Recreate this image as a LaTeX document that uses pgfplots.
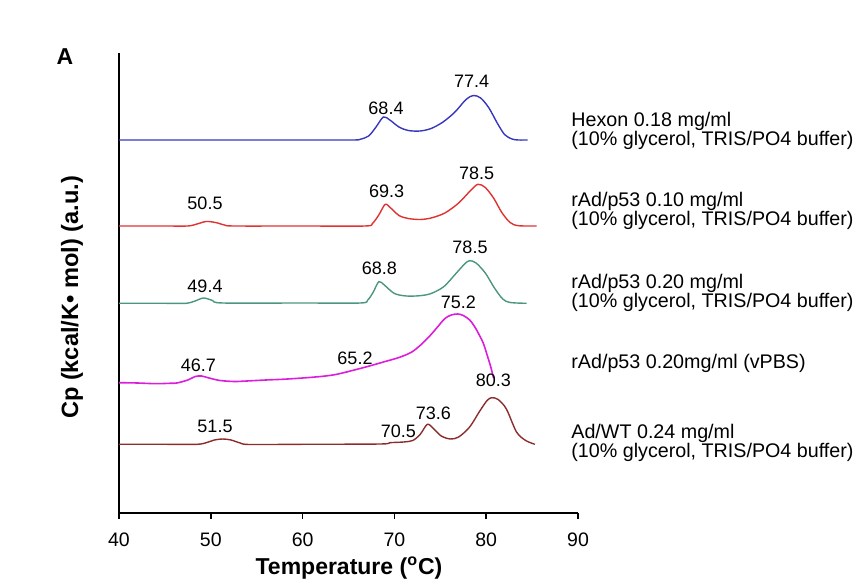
\documentclass[border=0pt]{standalone}
\usepackage{pgfplots}
\pgfplotsset{compat=1.18}
\usepackage{fontspec}
\setmainfont{Liberation Sans}
\definecolor{cblue}{RGB}{55,55,190}
\definecolor{cred}{RGB}{225,50,50}
\definecolor{cgreen}{RGB}{75,150,128}
\definecolor{cmag}{RGB}{220,30,220}
\definecolor{cbrown}{RGB}{140,45,45}
\newcommand{\lf}{\fontsize{9}{11}\selectfont}
\newcommand{\rf}{\fontsize{9.85}{12}\selectfont}
\begin{document}
\begin{tikzpicture}
\useasboundingbox (0,0) rectangle (429pt,-290.5pt);
\clip (0,0) rectangle (429pt,-290.5pt);
\begin{axis}[
  at={(59.5pt,-256.5pt)}, anchor=south west,
  scale only axis, width=229.5pt, height=230pt,
  xmin=40, xmax=90, ymin=0, ymax=460,
  axis x line=bottom, axis y line=left,
  axis line style={-, line width=1pt},
  xtick={40,50,...,90}, ytick=\empty,
  tick align=outside, major tick length=3pt,
  tick style={line width=0.8pt, black},
  /pgf/number format/assume math mode=true,
  tick label style={font=\fontsize{9.75}{11}\selectfont},
  xticklabel style={yshift=-3.5pt},
  clip=false,
]
\addplot[cblue, line width=0.7pt, smooth] coordinates {
(40,373)(50,373)(60,373)(65.5,373)(66.3,373.8)(67.2,377)(68,386)(68.8,396)(69.5,393)(70.5,386)(71.5,382.5)(72.8,382)(74,384.5)(75.3,391)(76.6,401)(77.8,413.5)(78.6,417.5)(79.4,415)(80.3,405)(81.2,390)(82,378.5)(82.8,374)(83.5,373)(84.5,373)};
\addplot[cred, line width=0.7pt, smooth] coordinates {
(40,287)(45,287)(47.5,287)(48.5,289)(49.5,291.5)(50.5,290.5)(51.5,288)(52.5,287)(60,287)(66.8,287)(67.6,289.5)(68.3,298)(69,308.7)(69.6,305)(70.5,297.5)(71.5,294.5)(72.8,293.5)(74,295)(75.5,300)(77,310)(78.3,322.5)(79.1,328.7)(79.9,325.5)(80.8,315)(81.7,300.5)(82.6,290.5)(83.5,287.3)(85.5,287)};
\addplot[cgreen, line width=0.7pt, smooth] coordinates {
(40,209.7)(45,209.7)(47.3,209.7)(48.3,212)(49.2,215)(50.2,212.5)(51.3,210)(60,210)(66.3,210)(67.1,213)(67.7,221)(68.3,231.3)(68.9,228)(70,219.5)(71.3,217)(72.8,217.3)(74,219.5)(75.4,226.5)(76.8,240.5)(77.7,249.5)(78.2,252.3)(78.9,250)(79.9,240)(80.9,225)(81.8,214)(82.6,210.5)(84.4,209.7)};
\addplot[cmag, line width=0.8pt, smooth] coordinates {
(40,130.3)(42,130)(44,129.3)(45.5,129.7)(46.3,130)(47.5,133)(48.3,136.5)(49,137)(49.8,135)(51,132.5)(52.5,131.5)(53.5,131.8)(56,133)(58,133.8)(60,135)(62,136.5)(63.5,138.3)(65,141.5)(67,146.3)(69,151.5)(70.5,155.5)(71.8,160.5)(72.8,167.5)(73.8,176.5)(74.7,186)(75.5,194.5)(76.2,198)(76.9,199)(77.5,197.5)(78.2,193)(78.8,185.5)(79.3,177)(79.7,169.5)(80.1,158)(80.5,146)(80.8,135)};
\addplot[cbrown, line width=0.7pt, smooth] coordinates {
(40,68.7)(45,68.7)(48.5,68.7)(49.5,70.3)(50.4,73)(51.3,74)(52.2,73)(53.2,70)(54.2,68.5)(60,68.7)(68.5,69)(69.5,70.3)(71,71)(72,72.5)(72.8,78.5)(73.6,88.7)(74.3,84)(75.1,77)(76.1,74)(77,76)(78.2,86)(79.3,102)(80.1,112.5)(80.6,115.3)(81.3,113.5)(82.2,104)(83.3,81)(84.3,72.5)(85.3,68.7)};
\end{axis}
\begin{scope}[x=0.5pt,y=-0.5pt]
\node[font=\lf] at (471.7,81.7) {77.4};
\node[font=\lf] at (386,108.3) {68.4};
\node[font=\lf] at (476.7,173.3) {78.5};
\node[font=\lf] at (386.7,191.7) {69.3};
\node[font=\lf] at (205,203.3) {50.5};
\node[font=\lf] at (470,247.3) {78.5};
\node[font=\lf] at (379.3,268.3) {68.8};
\node[font=\lf] at (205,286.7) {49.4};
\node[font=\lf] at (458.3,302.7) {75.2};
\node[font=\lf] at (355,358.3) {65.2};
\node[font=\lf] at (198.3,365) {46.7};
\node[font=\lf] at (493.3,380.7) {80.3};
\node[font=\lf] at (433.3,413.3) {73.6};
\node[font=\lf] at (398.3,431.7) {70.5};
\node[font=\lf] at (215,426.7) {51.5};
\node[font=\rf, anchor=west, inner sep=0pt] at (571,121.5) {Hexon 0.18 mg/ml};
\node[font=\rf, anchor=west, inner sep=0pt] at (571,140) {(10\% glycerol, TRIS/PO4 buffer)};
\node[font=\rf, anchor=west, inner sep=0pt] at (571,201.5) {rAd/p53 0.10 mg/ml};
\node[font=\rf, anchor=west, inner sep=0pt] at (571,220) {(10\% glycerol, TRIS/PO4 buffer)};
\node[font=\rf, anchor=west, inner sep=0pt] at (571,283.5) {rAd/p53 0.20 mg/ml};
\node[font=\rf, anchor=west, inner sep=0pt] at (571,302) {(10\% glycerol, TRIS/PO4 buffer)};
\node[font=\rf, anchor=west, inner sep=0pt] at (571,363.5) {rAd/p53 0.20mg/ml (vPBS)};
\node[font=\rf, anchor=west, inner sep=0pt] at (571,433.5) {Ad/WT 0.24 mg/ml};
\node[font=\rf, anchor=west, inner sep=0pt] at (571,452) {(10\% glycerol, TRIS/PO4 buffer)};
\node[font=\fontsize{11.5}{13}\selectfont\bfseries] at (349,568) {Temperature (\textsuperscript{o}C)};
\node[font=\fontsize{11.8}{13}\selectfont\bfseries, rotate=90] at (72,297.5) {Cp (kcal/K• mol) (a.u.)};
\node[font=\fontsize{11.5}{13}\selectfont\bfseries] at (65,57) {A};
\end{scope}
\end{tikzpicture}
\end{document}
